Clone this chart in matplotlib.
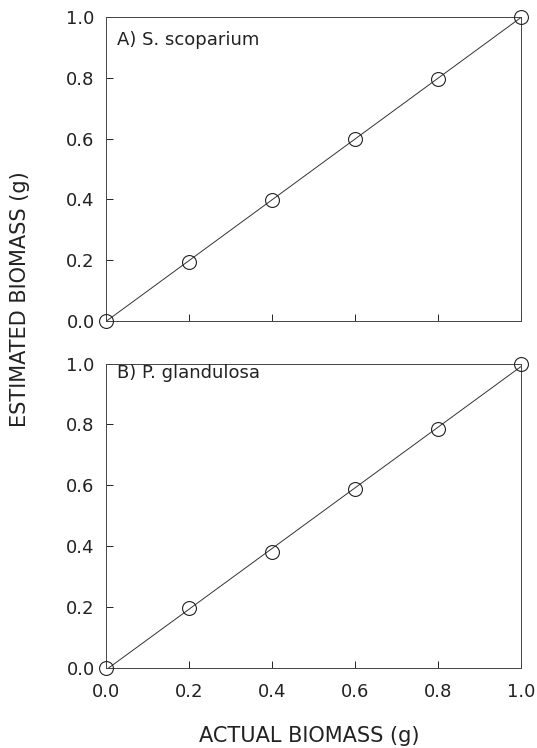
import numpy as np
import matplotlib
matplotlib.use("Agg")
import matplotlib.pyplot as plt

plt.rcParams['font.family'] = ['DejaVu Sans']

# actual biomass (g)
actual = [0.0, 0.2, 0.4, 0.6, 0.8, 1.0]
# estimated biomass (g)
est_a = [0.0, 0.195, 0.398, 0.600, 0.797, 1.0]
est_b = [0.0, 0.196, 0.380, 0.587, 0.786, 1.0]
panel_names = ['A) S. scoparium', 'B) P. glandulosa']
ticks = [0.0, 0.2, 0.4, 0.6, 0.8, 1.0]
tick_labels = ['0.0', '0.2', '0.4', '0.6', '0.8', '1.0']

fig = plt.figure(figsize=(5.37, 7.48), dpi=100)
ax_top = fig.add_axes([0.197, 0.571, 0.773, 0.406])
ax_bot = fig.add_axes([0.197, 0.107, 0.773, 0.407])

label_y = [0.925, 0.97]
for ax, est, name, ly in zip([ax_top, ax_bot], [est_a, est_b], panel_names, label_y):
    slope, icpt = np.polyfit(actual, est, 1)
    xs = np.array([0.0, 1.0])
    ax.plot(xs, slope * xs + icpt, color='#333333', lw=0.7, zorder=2)
    ax.plot(actual, est, 'o', mfc='none', mec='#222222', ms=10, mew=0.8,
            clip_on=False, zorder=3)
    ax.set_xlim(0, 1)
    ax.set_ylim(0, 1)
    ax.set_xticks(ticks)
    ax.set_yticks(ticks)
    ax.set_yticklabels(tick_labels)
    ax.tick_params(direction='in', length=5, width=0.7, labelsize=13,
                   colors='#222222', top=False, right=False)
    ax.tick_params(axis='y', pad=8)
    ax.tick_params(axis='x', pad=11)
    for s in ax.spines.values():
        s.set_linewidth(0.7)
        s.set_color('#444444')
    ax.text(0.027, ly, name, transform=ax.transAxes, fontsize=13,
            color='#222222', va='center', ha='left')

ax_top.set_xticklabels([])
ax_bot.set_xticklabels(tick_labels)

fig.text(0.038, 0.60, 'ESTIMATED BIOMASS (g)', rotation=90, fontsize=15,
         color='#222222', ha='center', va='center')
fig.text(0.575, 0.016, 'ACTUAL BIOMASS (g)', fontsize=15,
         color='#222222', ha='center', va='center')

fig.savefig('out.png', dpi=100)
